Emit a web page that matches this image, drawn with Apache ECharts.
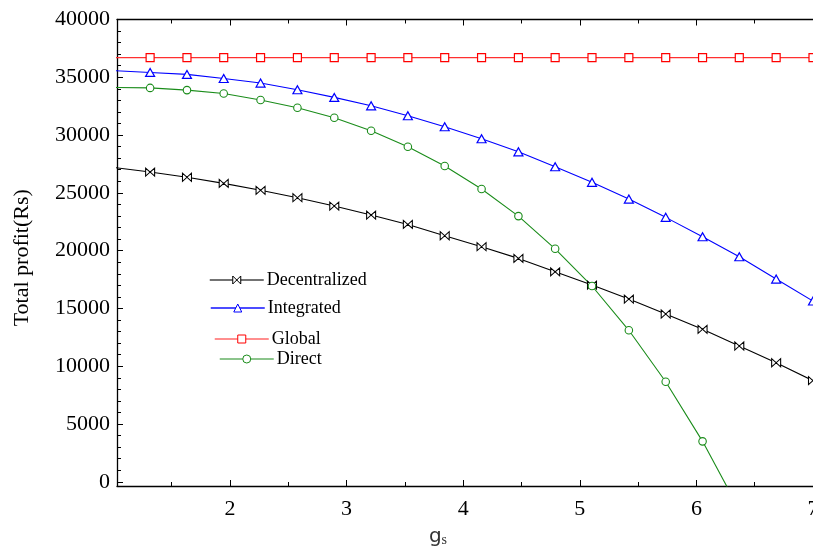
<!DOCTYPE html>
<html>
<head>
<meta charset="utf-8">
<script src="https://cdn.jsdelivr.net/npm/echarts@6/dist/echarts.min.js"></script>
<style>
html,body{margin:0;padding:0;background:#fff;}
#chart{width:813px;height:546px;}
</style>
</head>
<body>
<div id="chart"></div>
<script>
// ---- data ----
var gsValues = [1, 1.316, 1.632, 1.947, 2.263, 2.579, 2.895, 3.211, 3.526, 3.842, 4.158, 4.474, 4.789, 5.105, 5.421, 5.737, 6.053, 6.368, 6.684, 7];
var decentralized = [27200, 26800, 26350, 25820, 25220, 24580, 23860, 23080, 22270, 21290, 20340, 19330, 18170, 17020, 15810, 14520, 13190, 11750, 10300, 8750];
var integrated = [35580, 35420, 35250, 34900, 34500, 33920, 33260, 32530, 31670, 30720, 29680, 28550, 27260, 25910, 24460, 22880, 21200, 19470, 17540, 15640];
var globalVals = [36700, 36700, 36700, 36700, 36700, 36700, 36700, 36700, 36700, 36700, 36700, 36700, 36700, 36700, 36700, 36700, 36700, 36700, 36700, 36700];
var direct = [34120, 34080, 33890, 33600, 33030, 32360, 31500, 30370, 28990, 27320, 25330, 22990, 20160, 16940, 13110, 8660, 3500, -2400, null, null];
var xTickLabels = [2, 3, 4, 5, 6, 7];
var xMinorTicks = [1.5, 2.5, 3.5, 4.5, 5.5, 6.5];
var yTickLabels = [0, 5000, 10000, 15000, 20000, 25000, 30000, 35000, 40000];
var yMinorTicks = [1000,2000,3000,4000,6000,7000,8000,9000,11000,12000,13000,14000,16000,17000,18000,19000,21000,22000,23000,24000,26000,27000,28000,29000,31000,32000,33000,34000,36000,37000,38000,39000];

function pairs(ys) {
  return gsValues.map(function (x, i) { return [x, ys[i]]; });
}

var SERIF = "'Liberation Serif','Times New Roman',serif";
var X_MIN = 1.032, X_MAX = 7, Y_MIN = -363, Y_MAX = 40000;

var chart = echarts.init(document.getElementById('chart'), null, {renderer: 'canvas'});

function plainNum(v) { return String(Math.round(v)); }

function xAxisDef(pos, ticks, len, showLine, showLabels, name) {
  var a = {
    type: 'value', position: pos, min: X_MIN, max: X_MAX,
    splitLine: {show: false},
    axisLine: {show: showLine, onZero: false, lineStyle: {color: '#000', width: 1.3}},
    axisTick: {show: true, inside: true, length: len, customValues: ticks, lineStyle: {color: '#000', width: 1}},
    axisLabel: {show: showLabels, customValues: xTickLabels, formatter: plainNum, margin: 12, color: '#000', fontSize: 22, fontFamily: SERIF, hideOverlap: false}
  };
  if (name) {
    a.name = '{g|g}{s|s}';
    a.nameLocation = 'middle';
    a.nameGap = 41;
    a.nameTextStyle = {
      padding: [0, 54, 0, 0],
      rich: {
        g: {fontFamily: "'DejaVu Sans',sans-serif", fontSize: 20, color: '#333'},
        s: {fontFamily: SERIF, fontSize: 14, color: '#333', padding: [6, 0, 0, 0]}
      }
    };
  }
  return a;
}
function yAxisDef(ticks, len, showLine, showLabels, name) {
  var a = {
    type: 'value', position: 'left', min: Y_MIN, max: Y_MAX,
    splitLine: {show: false},
    axisLine: {show: showLine, onZero: false, lineStyle: {color: '#000', width: 1.3}},
    axisTick: {show: true, inside: true, length: len, customValues: ticks, lineStyle: {color: '#000', width: 1}},
    axisLabel: {show: showLabels, customValues: yTickLabels, formatter: plainNum, margin: 7, color: '#000', fontSize: 22, fontFamily: SERIF, hideOverlap: false}
  };
  if (name) {
    a.name = name;
    a.nameLocation = 'middle';
    a.nameGap = 84;
    a.nameRotate = 90;
    a.nameTextStyle = {color: '#000', fontSize: 22, fontFamily: SERIF, padding: [0, 10, 0, 0]};
  }
  return a;
}

function legendDef(name, left, cy, lineColor, symColor) {
  return {
    data: [{name: name, lineStyle: {color: lineColor, width: 1.5},
            itemStyle: {color: '#fff', borderColor: symColor, borderWidth: 1}}],
    left: left, top: cy - 10, padding: 0, itemGap: 0,
    itemWidth: 54, itemHeight: 10, selectedMode: false,
    textStyle: {color: '#000', fontSize: 18, fontFamily: SERIF, padding: [0, 0, 0, -2]}
  };
}

var option = {
  backgroundColor: '#fff',
  animation: false,
  grid: {left: 117, right: 0, top: 19.5, bottom: 60, containLabel: false, outerBoundsMode: 'none'},
  xAxis: [
    xAxisDef('bottom', xTickLabels, 6, true, true, true),
    xAxisDef('bottom', xMinorTicks, 4, false, false, false),
    xAxisDef('top', xTickLabels, 6, true, false, false),
    xAxisDef('top', xMinorTicks, 4, false, false, false)
  ],
  yAxis: [
    yAxisDef(yTickLabels, 6, true, true, 'Total profit(Rs)'),
    yAxisDef(yMinorTicks, 4, false, false, null)
  ],
  legend: [
    legendDef('Decentralized', 209, 281, '#444', '#000'),
    legendDef('Integrated', 210, 309, '#1010ff', '#0000ff'),
    legendDef('Global', 214, 340, '#ff6868', '#ff0000'),
    legendDef('Direct', 219, 360, '#66b066', '#1a8c1a')
  ],
  series: [
    {
      name: 'Decentralized', type: 'line', data: pairs(decentralized),
      symbol: 'path://M0,0L0,10L5,5ZM10,0L10,10L5,5Z', symbolSize: [9, 8], symbolKeepAspect: false,
      showAllSymbol: true, clip: true,
      lineStyle: {color: '#000', width: 1.1},
      itemStyle: {color: '#fff', borderColor: '#000', borderWidth: 1}
    },
    {
      name: 'Integrated', type: 'line', data: pairs(integrated),
      symbol: 'triangle', symbolSize: [9, 8], showAllSymbol: true, clip: true,
      lineStyle: {color: '#0000ff', width: 1.1},
      itemStyle: {color: '#fff', borderColor: '#0000ff', borderWidth: 1.2}
    },
    {
      name: 'Global', type: 'line', data: pairs(globalVals),
      symbol: 'rect', symbolSize: 8, showAllSymbol: true, clip: true,
      lineStyle: {color: '#ff3030', width: 1.3},
      itemStyle: {color: '#fff', borderColor: '#ff0000', borderWidth: 1.2}
    },
    {
      name: 'Direct', type: 'line', data: pairs(direct),
      symbol: 'circle', symbolSize: 7.5, showAllSymbol: true, clip: true, connectNulls: false,
      lineStyle: {color: '#1a8c1a', width: 1.1},
      itemStyle: {color: '#fff', borderColor: '#1a8c1a', borderWidth: 1.1}
    }
  ]
};
chart.setOption(option);
</script>
</body>
</html>
